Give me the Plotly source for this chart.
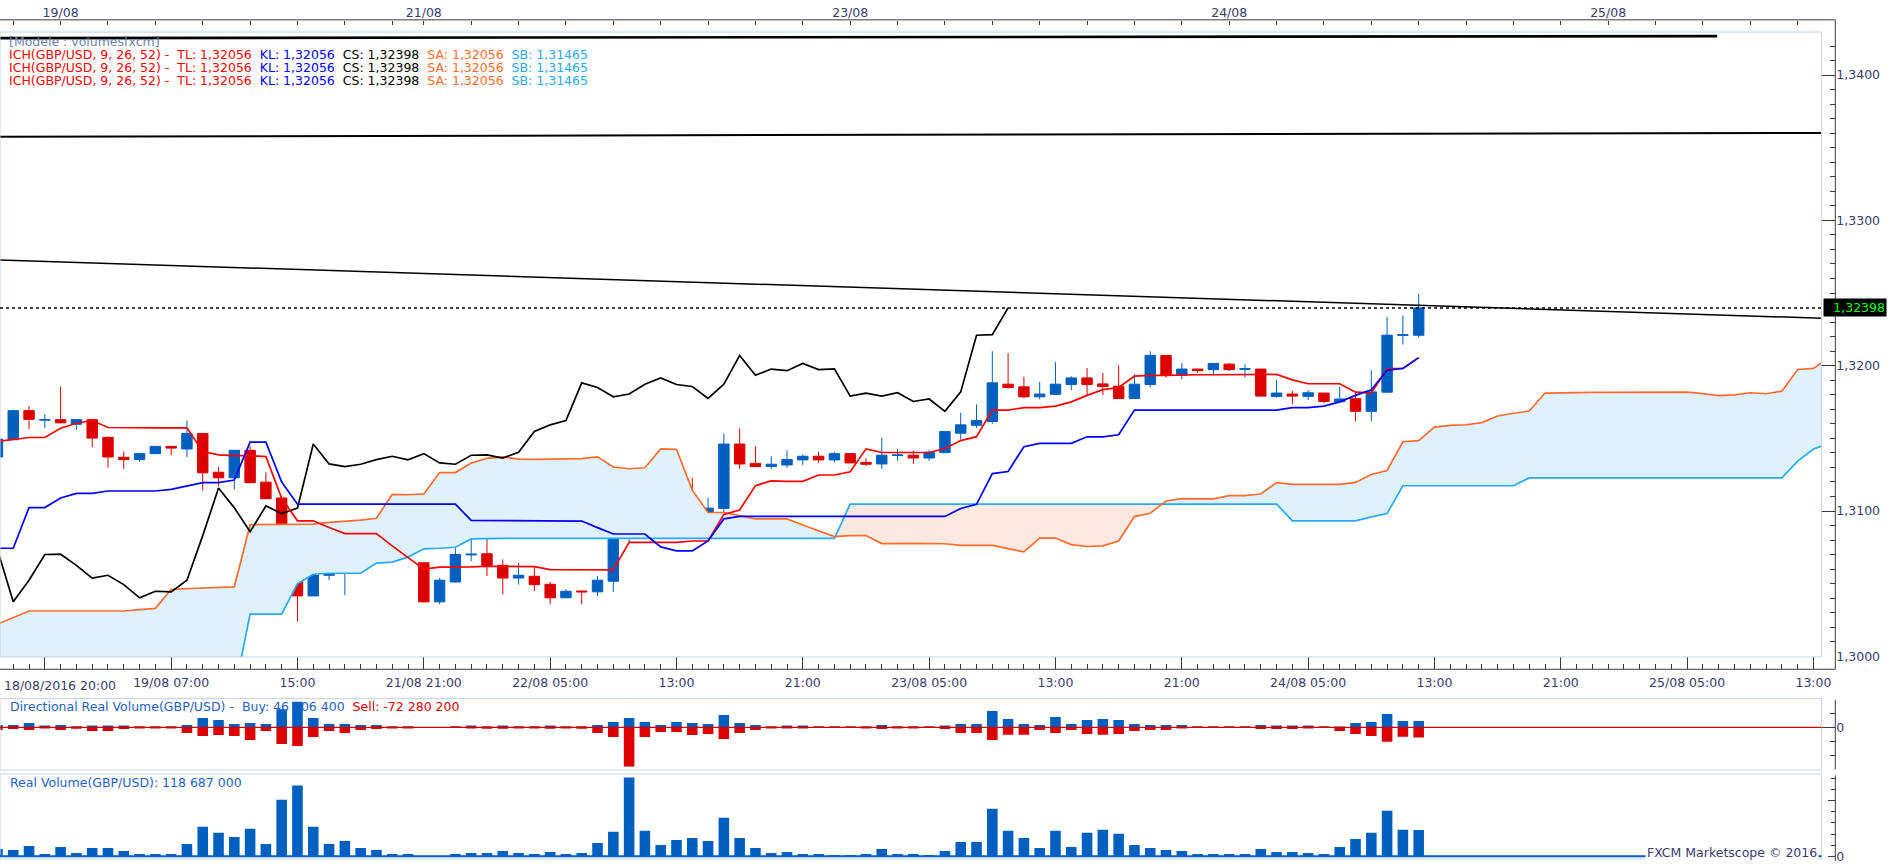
"""GBP/USD hourly candles with Ichimoku, directional volume and real volume (Marketscope look)."""

import numpy as np
import plotly.graph_objects as go

W, H = 1903, 868
FONT = "DejaVu Sans"

# ---- hourly bars, bar 0 = 18/08/2016 20:00 ----
OPEN = [1.31372, 1.31491, 1.31691, 1.31625, 1.31629, 1.31597, 1.31629, 1.31507, 1.31370, 1.31354,
        1.31395, 1.31445, 1.31427, 1.31534, 1.31267, 1.31229, 1.31418, 1.31199, 1.31090, 1.30844,
        1.30416, 1.30558, 1.30603, 1.30631, 1.30701, 1.30781, 1.30808, 1.30644, 1.30375, 1.30512,
        1.30698, 1.30706, 1.30626, 1.30539, 1.30551, 1.30496, 1.30403, 1.30450, 1.30444, 1.30517,
        1.30826, 1.31158, 1.31029, 1.30858, 1.31035, 1.30983, 1.31018, 1.31461, 1.31328, 1.31306,
        1.31317, 1.31352, 1.31377, 1.31352, 1.31395, 1.31335, 1.31324, 1.31382, 1.31384, 1.31365,
        1.31402, 1.31536, 1.31590, 1.31616, 1.31873, 1.31855, 1.31786, 1.31803, 1.31871, 1.31916,
        1.31875, 1.31859, 1.31775, 1.31871, 1.32071, 1.31934, 1.31977, 1.31973, 1.32011, 1.31975,
        1.31977, 1.31789, 1.31805, 1.31789, 1.31812, 1.31752, 1.31773, 1.31686, 1.31818, 1.32209,
        1.32210]
HIGH = [1.31500, 1.31698, 1.31725, 1.31668, 1.31855, 1.31629, 1.31632, 1.31514, 1.31411, 1.31395,
        1.31445, 1.31445, 1.31623, 1.31534, 1.31304, 1.31418, 1.31445, 1.31267, 1.31090, 1.30910,
        1.30740, 1.30728, 1.30631, 1.30735, 1.30815, 1.30849, 1.30870, 1.30644, 1.30539, 1.30744,
        1.30831, 1.30831, 1.30667, 1.30644, 1.30614, 1.30512, 1.30462, 1.30450, 1.30553, 1.30831,
        1.31213, 1.31213, 1.31029, 1.31126, 1.31229, 1.31092, 1.31534, 1.31568, 1.31445, 1.31377,
        1.31418, 1.31389, 1.31409, 1.31409, 1.31395, 1.31363, 1.31506, 1.31427, 1.31416, 1.31418,
        1.31547, 1.31677, 1.31734, 1.32100, 1.32087, 1.31923, 1.31889, 1.32025, 1.31927, 1.31984,
        1.31950, 1.32003, 1.31941, 1.32100, 1.32071, 1.32018, 1.31979, 1.32018, 1.32018, 1.32009,
        1.31977, 1.31902, 1.31827, 1.31832, 1.31812, 1.31855, 1.31823, 1.31969, 1.32337, 1.32346,
        1.32496]
LOW = [1.31365, 1.31491, 1.31563, 1.31570, 1.31605, 1.31559, 1.31440, 1.31297, 1.31290, 1.31338,
       1.31395, 1.31384, 1.31372, 1.31140, 1.31172, 1.31149, 1.31195, 1.31085, 1.30546, 1.30239,
       1.30416, 1.30524, 1.30421, 1.30580, 1.30701, 1.30781, 1.30717, 1.30372, 1.30358, 1.30507,
       1.30655, 1.30553, 1.30426, 1.30494, 1.30448, 1.30358, 1.30403, 1.30358, 1.30416, 1.30444,
       1.30785, 1.30990, 1.30858, 1.30831, 1.30983, 1.30922, 1.30990, 1.31290, 1.31304, 1.31290,
       1.31297, 1.31317, 1.31331, 1.31335, 1.31331, 1.31308, 1.31290, 1.31347, 1.31324, 1.31344,
       1.31402, 1.31491, 1.31570, 1.31600, 1.31843, 1.31775, 1.31768, 1.31803, 1.31831, 1.31798,
       1.31798, 1.31775, 1.31775, 1.31850, 1.31918, 1.31907, 1.31950, 1.31941, 1.31964, 1.31918,
       1.31791, 1.31780, 1.31734, 1.31763, 1.31741, 1.31750, 1.31618, 1.31618, 1.31813, 1.32146,
       1.32192]
CLOSE = [1.31495, 1.31691, 1.31631, 1.31630, 1.31607, 1.31629, 1.31502, 1.31372, 1.31354, 1.31395,
         1.31445, 1.31433, 1.31534, 1.31263, 1.31229, 1.31418, 1.31195, 1.31085, 1.30840, 1.30416,
         1.30558, 1.30603, 1.30631, 1.30701, 1.30781, 1.30808, 1.30735, 1.30375, 1.30524, 1.30701,
         1.30703, 1.30626, 1.30539, 1.30558, 1.30494, 1.30403, 1.30448, 1.30444, 1.30524, 1.30831,
         1.31158, 1.31022, 1.30858, 1.31035, 1.30983, 1.31020, 1.31461, 1.31324, 1.31306, 1.31322,
         1.31354, 1.31377, 1.31352, 1.31395, 1.31331, 1.31322, 1.31384, 1.31386, 1.31365, 1.31404,
         1.31547, 1.31593, 1.31623, 1.31882, 1.31850, 1.31786, 1.31805, 1.31873, 1.31916, 1.31871,
         1.31857, 1.31775, 1.31873, 1.32071, 1.31934, 1.31977, 1.31966, 1.32016, 1.31973, 1.31979,
         1.31791, 1.31812, 1.31791, 1.31814, 1.31754, 1.31771, 1.31686, 1.31820, 1.32210, 1.32214,
         1.32398]

# Ichimoku lines
TENKAN = [1.31479, 1.31491, 1.31506, 1.31506, 1.31570, 1.31604, 1.31623, 1.31575, 1.31573, 1.31573,
          1.31573, 1.31573, 1.31573, 1.31410, 1.31386, 1.31382, 1.31382, 1.31375, 1.31088, 1.30933,
          1.30933, 1.30887, 1.30845, 1.30845, 1.30845, 1.30760, 1.30680, 1.30600, 1.30614, 1.30614,
          1.30616, 1.30620, 1.30620, 1.30620, 1.30618, 1.30597, 1.30597, 1.30597, 1.30595, 1.30595,
          1.30785, 1.30785, 1.30785, 1.30785, 1.30794, 1.30794, 1.30977, 1.31007, 1.31175, 1.31208,
          1.31204, 1.31204, 1.31248, 1.31248, 1.31270, 1.31428, 1.31403, 1.31403, 1.31403, 1.31403,
          1.31430, 1.31485, 1.31512, 1.31695, 1.31695, 1.31712, 1.31712, 1.31722, 1.31751, 1.31796,
          1.31835, 1.31850, 1.31928, 1.31934, 1.31934, 1.31938, 1.31938, 1.31938, 1.31938, 1.31938,
          1.31938, 1.31940, 1.31903, 1.31876, 1.31876, 1.31876, 1.31818, 1.31814, 1.31978, 1.31982,
          1.32056]
KIJUN = [1.30744, 1.30744, 1.31024, 1.31024, 1.31090, 1.31122, 1.31122, 1.31138, 1.31138, 1.31138,
         1.31138, 1.31149, 1.31172, 1.31195, 1.31195, 1.31213, 1.31474, 1.31474, 1.31200, 1.31047,
         1.31047, 1.31047, 1.31047, 1.31047, 1.31047, 1.31047, 1.31047, 1.31047, 1.31047, 1.31047,
         1.30936, 1.30936, 1.30936, 1.30931, 1.30931, 1.30931, 1.30931, 1.30931, 1.30886, 1.30842,
         1.30842, 1.30842, 1.30753, 1.30726, 1.30726, 1.30794, 1.30946, 1.30963, 1.30963, 1.30963,
         1.30963, 1.30963, 1.30963, 1.30963, 1.30963, 1.30963, 1.30963, 1.30963, 1.30963, 1.30963,
         1.30963, 1.31018, 1.31046, 1.31258, 1.31272, 1.31443, 1.31466, 1.31466, 1.31466, 1.31511,
         1.31511, 1.31525, 1.31695, 1.31695, 1.31695, 1.31695, 1.31695, 1.31695, 1.31695, 1.31695,
         1.31695, 1.31695, 1.31712, 1.31712, 1.31722, 1.31751, 1.31796, 1.31835, 1.31969, 1.31982,
         1.32056]
# lagging span, bars 0..64
CHIKOU = [1.30735, 1.30375, 1.30524, 1.30701, 1.30703, 1.30626, 1.30539, 1.30558, 1.30494, 1.30403,
          1.30448, 1.30444, 1.30524, 1.30831, 1.31158, 1.31022, 1.30858, 1.31035, 1.30983, 1.31020,
          1.31461, 1.31324, 1.31306, 1.31322, 1.31354, 1.31377, 1.31352, 1.31395, 1.31331, 1.31322,
          1.31384, 1.31386, 1.31365, 1.31404, 1.31547, 1.31593, 1.31623, 1.31882, 1.31850, 1.31786,
          1.31805, 1.31873, 1.31916, 1.31871, 1.31857, 1.31775, 1.31873, 1.32071, 1.31934, 1.31977,
          1.31966, 1.32016, 1.31973, 1.31979, 1.31791, 1.31812, 1.31791, 1.31814, 1.31754, 1.31771,
          1.31686, 1.31820, 1.32210, 1.32214, 1.32398]
# leading spans, bars 0..116
SENKOU_A = [1.30221, 1.30266, 1.30312, 1.30312, 1.30312, 1.30312, 1.30312, 1.30312, 1.30312, 1.30321,
            1.30330, 1.30462, 1.30467, 1.30471, 1.30476, 1.30478, 1.30906, 1.30908, 1.30908, 1.30908,
            1.30910, 1.30922, 1.30929, 1.30938, 1.30950, 1.31115, 1.31112, 1.31118, 1.31265, 1.31265,
            1.31330, 1.31363, 1.31373, 1.31357, 1.31356, 1.31356, 1.31356, 1.31361, 1.31373, 1.31303,
            1.31291, 1.31298, 1.31428, 1.31425, 1.31144, 1.30990, 1.30990, 1.30967, 1.30946, 1.30946,
            1.30946, 1.30904, 1.30864, 1.30824, 1.30831, 1.30831, 1.30776, 1.30778, 1.30778, 1.30776,
            1.30775, 1.30764, 1.30764, 1.30764, 1.30741, 1.30719, 1.30814, 1.30814, 1.30769, 1.30756,
            1.30760, 1.30794, 1.30962, 1.30985, 1.31069, 1.31086, 1.31084, 1.31084, 1.31106, 1.31106,
            1.31117, 1.31196, 1.31183, 1.31183, 1.31183, 1.31183, 1.31197, 1.31252, 1.31279, 1.31477,
            1.31484, 1.31578, 1.31589, 1.31594, 1.31609, 1.31654, 1.31673, 1.31688, 1.31812, 1.31815,
            1.31815, 1.31817, 1.31817, 1.31817, 1.31817, 1.31817, 1.31817, 1.31818, 1.31808, 1.31794,
            1.31799, 1.31814, 1.31807, 1.31825, 1.31974, 1.31982, 1.32056]
SENKOU_B = ([1.29750] * 16 + [1.30291] * 3
            + [1.30500, 1.30565, 1.30572, 1.30572, 1.30572, 1.30642, 1.30649, 1.30683, 1.30740,
               1.30744, 1.30751, 1.30808]
            + [1.30812] * 23 + [1.31048] * 28 + [1.30933] * 5 + [1.30960, 1.30983]
            + [1.31174] * 8 + [1.31228] * 17 + [1.31344, 1.31427, 1.31465])

# drawn trend lines (bar index, price, width)
TREND_LINES = [
    ([-1, 108.9], [1.34254, 1.34268], 2.6),
    ([-1, 116.0], [1.33576, 1.33602], 2.0),
    ([-1, 116.0], [1.32732, 1.32325], 1.5),
]
LAST_PRICE = 1.32398

# volumes in millions
BUY_VOL = [16.6, 16.6, 30.9, 7.1, 16.6, 4.8, 9.5, 9.5, 9.5, 2.4,
           2.4, 2.4, 16.6, 66.5, 52.3, 23.8, 30.9, 23.8, 130.6, 182.9,
           66.5, 23.8, 23.8, 16.6, 16.6, 2.4, 2.4, 0.0, 0.0, 2.4,
           9.5, 2.4, 9.5, 2.4, 2.4, 7.1, 2.4, 1.2, 16.6, 38.0,
           66.5, 38.0, 16.6, 38.0, 30.9, 23.8, 87.9, 30.9, 16.6, 2.4,
           9.5, 9.5, 2.4, 2.4, 2.4, 2.4, 16.6, 2.4, 2.4, 2.4,
           9.5, 23.8, 23.8, 116.4, 59.4, 23.8, 16.6, 73.6, 23.8, 52.3,
           59.4, 52.3, 23.8, 16.6, 16.6, 16.6, 2.4, 2.4, 2.4, 2.4,
           16.6, 9.5, 9.5, 9.5, 2.4, 4.8, 30.9, 38.0, 95.0, 45.1,
           46.4]
SELL_VOL = [-19.0, -11.9, -19.0, -4.8, -19.0, -9.5, -26.1, -26.1, -11.9, -2.4,
            -2.4, -2.4, -40.4, -61.8, -54.6, -61.8, -90.3, -26.1, -118.8, -133.0,
            -69.0, -26.1, -40.4, -19.0, -11.9, -2.4, -2.4, 0.0, 0.0, -1.2,
            -2.4, -9.5, -9.5, -2.4, -2.4, -9.5, -2.4, -9.5, -40.4, -69.0,
            -280.3, -69.0, -33.3, -33.3, -54.6, -47.5, -83.1, -40.4, -19.0, -2.4,
            -2.4, -2.4, -1.2, -1.2, -1.2, -2.4, -11.9, -2.4, -2.4, -1.2,
            -11.9, -40.4, -40.4, -90.3, -52.3, -52.3, -19.0, -40.4, -19.0, -47.5,
            -52.3, -47.5, -26.1, -19.0, -19.0, -2.4, -1.2, -1.2, -1.2, -1.2,
            -11.9, -11.9, -11.9, -2.4, -1.2, -26.1, -47.5, -61.8, -102.1, -66.5,
            -72.3]
REAL_VOL = [33.0, 28.6, 46.7, 10.5, 42.1, 15.1, 37.6, 37.6, 24.1, 10.5,
            10.5, 10.5, 55.7, 132.4, 105.4, 87.3, 123.4, 55.7, 254.3, 317.6,
            132.4, 55.7, 69.2, 37.6, 28.6, 10.5, 10.5, 0.0, 0.0, 10.5,
            15.1, 15.1, 24.1, 15.1, 10.5, 19.6, 10.5, 15.1, 60.2, 109.9,
            353.7, 114.4, 51.2, 73.7, 82.8, 69.2, 173.1, 82.8, 37.6, 15.1,
            19.6, 10.5, 10.5, 6.0, 6.0, 10.5, 33.1, 10.5, 10.5, 6.0,
            24.1, 64.7, 64.7, 213.7, 114.4, 82.8, 37.6, 114.4, 42.1, 105.4,
            118.9, 100.8, 51.2, 37.6, 28.6, 24.1, 10.5, 10.5, 10.5, 10.5,
            33.1, 19.6, 19.6, 15.1, 10.5, 42.1, 78.3, 105.4, 204.7, 118.9,
            118.7]

# axis labels
BOTTOM_TICKS = [3, 11, 19, 27, 35, 43, 51, 59, 67, 75, 83, 91, 99, 107, 115]
BOTTOM_LABELS = ["", "19/08 07:00", "15:00", "21/08 21:00", "22/08 05:00", "13:00", "21:00",
                 "23/08 05:00", "13:00", "21:00", "24/08 05:00", "13:00", "21:00",
                 "25/08 05:00", "13:00"]
FIRST_LABEL = "18/08/2016 20:00"
DAY_TICKS = [4, 27, 54, 78, 102]
DAY_LABELS = ["19/08", "21/08", "23/08", "24/08", "25/08"]
DAY_MARKS = [4, 27, 30, 54, 78, 102]
HOUR3_TICKS = list(range(1, 26, 3)) + list(range(27, 116, 3))
PRICE_TICKS = [1.30, 1.31, 1.32, 1.33, 1.34]
PRICE_LABELS = ["1,3000", "1,3100", "1,3200", "1,3300", "1,3400"]

# ---- colours ----
BULL = "#0060c0"
BEAR = "#dc0000"
TL_C = "#ff0000"
KL_C = "#0000ff"
SA_C = "#ff6c2c"
SB_C = "#26aaf2"
CLOUD_UP = "#dff1fd"
CLOUD_DN = "#fde9df"
EDGE = "#c6d3e2"
AXIS_LINE = "#3a3a3a"
AXIS_TEXT = "#3b3b6d"
VOL_TEXT = "#1f62c4"

# ---- pixel layout of the Marketscope window ----
PLOT_R, AXIS_X = 1831, 1845
TOP_AXIS_Y, PLOT_T, PLOT_B, BOTTOM_AXIS_Y = 20, 32.3, 662.3, 674.7
DIR_T, DIR_ZERO, DIR_B = 704.3, 733.3, 776.3
VOL_T, VOL_ZERO, VOL_B = 780.3, 863.3, 866.0
BAR0_PX, BAR_PX = -2.57, 15.875          # x of bar 0, spacing of bars
PRICE_REF, PRICE_REF_PX, PX_PER_PRICE = 1.34, 75.7, 14650.0
DIR_PER_PX, VOL_PER_PX = 7.1, 4.45


def px_x(px):
    return px / W


def px_y(py):
    return 1 - py / H


def bar_at(px):
    return (px - BAR0_PX) / BAR_PX


def price_at(py):
    return PRICE_REF - (py - PRICE_REF_PX) / PX_PER_PRICE


def comma(v):
    return f"{v:.5f}".replace(".", ",")


def cloud_pieces(xs, upper, lower):
    """Split the area between two spans into runs where upper >= lower or not."""
    xs = np.asarray(xs, float)
    a = np.asarray(upper, float)
    b = np.asarray(lower, float)
    d = a - b
    pieces = []
    cx, ca, cb = [xs[0]], [a[0]], [b[0]]
    state = d[0] >= 0
    for i in range(1, len(xs)):
        now = d[i] >= 0
        if now != state:
            t = d[i - 1] / (d[i - 1] - d[i])
            xc = xs[i - 1] + t * (xs[i] - xs[i - 1])
            yc = a[i - 1] + t * (a[i] - a[i - 1])
            cx.append(xc); ca.append(yc); cb.append(yc)
            pieces.append((state, cx, ca, cb))
            cx, ca, cb = [xc], [yc], [yc]
            state = now
        cx.append(xs[i]); ca.append(a[i]); cb.append(b[i])
    pieces.append((state, cx, ca, cb))
    return pieces


bars = list(range(len(CLOSE)))
lead_x = list(range(len(SENKOU_A)))
x_range = [bar_at(0), bar_at(PLOT_R)]

fig = go.Figure()

# cloud
for bullish, cx, ca, cb in cloud_pieces(lead_x, SENKOU_A, SENKOU_B):
    fig.add_trace(go.Scatter(x=cx + cx[::-1], y=ca + cb[::-1], mode="lines", fill="toself",
                             fillcolor=CLOUD_UP if bullish else CLOUD_DN, line=dict(width=0),
                             hoverinfo="skip"))

fig.add_trace(go.Candlestick(
    x=bars, open=OPEN, high=HIGH, low=LOW, close=CLOSE, whiskerwidth=0,
    increasing=dict(line=dict(color=BULL, width=1), fillcolor=BULL),
    decreasing=dict(line=dict(color=BEAR, width=1), fillcolor=BEAR),
    hoverinfo="skip"))

for xs, ys, color in [(lead_x, SENKOU_B, SB_C), (lead_x, SENKOU_A, SA_C),
                      (bars[:len(CHIKOU)], CHIKOU, "#000000"),
                      (bars, TENKAN, TL_C), (bars, KIJUN, KL_C)]:
    fig.add_trace(go.Scatter(x=xs, y=ys, mode="lines", line=dict(color=color, width=1.7),
                             hoverinfo="skip"))

for xs, ys, width in TREND_LINES:
    fig.add_trace(go.Scatter(x=xs, y=ys, mode="lines", line=dict(color="#000000", width=width),
                             hoverinfo="skip"))

# day markers on the top time strip
fig.add_trace(go.Scatter(x=DAY_MARKS, y=[price_at(23.5)] * len(DAY_MARKS), xaxis="x2", yaxis="y",
                         mode="markers", cliponaxis=False, hoverinfo="skip",
                         marker=dict(symbol="triangle-down", size=9, color="#262626")))

# directional and real volume
fig.add_trace(go.Bar(x=bars, y=BUY_VOL, yaxis="y2", width=0.67, marker=dict(color=BULL, line_width=0),
                     hoverinfo="skip"))
fig.add_trace(go.Bar(x=bars, y=SELL_VOL, yaxis="y2", width=0.67, marker=dict(color=BEAR, line_width=0),
                     hoverinfo="skip"))
fig.add_trace(go.Bar(x=bars, y=REAL_VOL, yaxis="y3", width=0.67, marker=dict(color=BULL, line_width=0),
                     hoverinfo="skip"))

tick_font = dict(family=FONT, size=12.5, color=AXIS_TEXT)
y_common = dict(anchor="free", position=px_x(AXIS_X), side="right", ticks="inside",
                tickcolor=AXIS_LINE, showgrid=False, zeroline=False, showline=False,
                tickfont=tick_font, fixedrange=True)


def frame(x0, y0, x1, y1, color=AXIS_LINE):
    return dict(type="line", xref="paper", yref="paper", x0=px_x(x0), x1=px_x(x1),
                y0=px_y(y0), y1=px_y(y1), line=dict(color=color, width=1), layer="above")


def panel(top, bottom):
    return dict(type="rect", xref="paper", yref="paper", x0=0, x1=px_x(PLOT_R),
                y0=px_y(bottom), y1=px_y(top), line=dict(color=EDGE, width=1), layer="above")


shapes = [
    panel(PLOT_T, PLOT_B), panel(DIR_T, DIR_B), panel(VOL_T, VOL_B),
    frame(0, TOP_AXIS_Y, AXIS_X, TOP_AXIS_Y), frame(AXIS_X, TOP_AXIS_Y, AXIS_X, BOTTOM_AXIS_Y),
    frame(0, BOTTOM_AXIS_Y, AXIS_X, BOTTOM_AXIS_Y), frame(AXIS_X, 705.7, AXIS_X, 775.7),
    frame(AXIS_X, 781.7, AXIS_X, H),
    dict(type="line", xref="x domain", yref="y", x0=0, x1=1, y0=LAST_PRICE, y1=LAST_PRICE,
         line=dict(color="#000000", width=1.5, dash="dot"), layer="above"),
    dict(type="line", xref="x domain", yref="y2", x0=0, x1=1, y0=0, y1=0,
         line=dict(color="#d00000", width=1.2), layer="above"),
    dict(type="line", xref="x domain", yref="y3", x0=0, x1=1, y0=0, y1=0,
         line=dict(color=BULL, width=2), layer="above"),
]

NB = "\u00a0"
ich_line = (f"<span style='color:{TL_C}'>ICH(GBP/USD, 9, 26, 52) -{NB} TL: {comma(TENKAN[-1])}</span>{NB} "
            f"<span style='color:{KL_C}'>KL: {comma(KIJUN[-1])}</span>{NB} "
            f"<span style='color:#000000'>CS: {comma(CLOSE[-1])}</span>{NB} "
            f"<span style='color:{SA_C}'>SA: {comma(SENKOU_A[-1])}</span>{NB} "
            f"<span style='color:{SB_C}'>SB: {comma(SENKOU_B[-1])}</span>")


def note(text, x, y, color=AXIS_TEXT, anchor="left", **kw):
    return dict(text=text, xref="paper", yref="paper", x=px_x(x), y=px_y(y), xanchor=anchor,
                yanchor="middle", showarrow=False, font=dict(family=FONT, size=12.5, color=color), **kw)


annotations = [
    note("[Modele : volumesfxcm]", 7.5, 41.5, color="#6f7fa6"),
    note(ich_line, 7.5, 54.8), note(ich_line, 7.5, 68.1), note(ich_line, 7.5, 81.4),
    note(FIRST_LABEL, 1.7, 690.7),
    note(f"<span style='color:{VOL_TEXT}'>Directional Real Volume(GBP/USD) -{NB} Buy: 46 406 400</span>{NB} "
         f"<span style='color:{BEAR}'>Sell: -72 280 200</span>", 8.3, 712.3),
    note("Real Volume(GBP/USD): 118 687 000", 8.3, 788.7, color=VOL_TEXT),
    note("FXCM Marketscope © 2016", 1829, 859.3, anchor="right", bgcolor="white"),
    dict(text=comma(LAST_PRICE), xref="paper", yref="y", x=px_x(1833), y=LAST_PRICE, xanchor="left",
         yanchor="middle", showarrow=False, bgcolor="#000000", borderpad=1, width=60, align="right",
         font=dict(family=FONT, size=12.5, color="#00ff00")),
]

fig.update_layout(
    width=W, height=H, margin=dict(l=0, r=0, t=0, b=0),
    paper_bgcolor="white", plot_bgcolor="white",
    showlegend=False, hovermode=False, barmode="overlay",
    boxgap=0.34, boxgroupgap=0,
    font=dict(family=FONT, size=12.5, color=AXIS_TEXT),
    xaxis=dict(domain=[0, px_x(PLOT_R)], range=x_range, anchor="free", position=px_y(BOTTOM_AXIS_Y),
               tickmode="array", tickvals=BOTTOM_TICKS, ticktext=BOTTOM_LABELS,
               ticks="inside", ticklen=12, tickcolor=AXIS_LINE,
               minor=dict(tickmode="linear", tick0=0, dtick=1, ticks="inside", ticklen=5,
                          tickcolor=AXIS_LINE),
               showgrid=False, zeroline=False, showline=False, tickfont=tick_font,
               ticklabelstandoff=4, rangeslider=dict(visible=False), fixedrange=True),
    xaxis2=dict(overlaying="x", side="top", anchor="free", position=px_y(TOP_AXIS_Y), range=x_range,
                tickmode="array", tickvals=DAY_TICKS, ticktext=DAY_LABELS,
                ticks="inside", ticklen=4, tickcolor=AXIS_LINE,
                minor=dict(tickmode="array", tickvals=HOUR3_TICKS, ticks="inside", ticklen=4,
                           tickcolor=AXIS_LINE),
                showgrid=False, zeroline=False, showline=False, tickfont=tick_font, fixedrange=True),
    yaxis=dict(domain=[px_y(PLOT_B), px_y(PLOT_T)], range=[price_at(PLOT_B), price_at(PLOT_T)],
               tickmode="array", tickvals=PRICE_TICKS, ticktext=PRICE_LABELS, ticklen=14,
               minor=dict(tickmode="linear", tick0=1.3, dtick=0.001, ticks="inside", ticklen=5,
                          tickcolor=AXIS_LINE),
               **y_common),
    yaxis2=dict(domain=[px_y(DIR_B), px_y(DIR_T)],
                range=[-(DIR_B - DIR_ZERO) * DIR_PER_PX, (DIR_ZERO - DIR_T) * DIR_PER_PX],
                tickmode="array", tickvals=[0], ticktext=["0"], ticklen=15,
                minor=dict(tickmode="linear", tick0=0, dtick=100, ticks="inside", ticklen=5,
                           tickcolor=AXIS_LINE),
                **y_common),
    yaxis3=dict(domain=[px_y(VOL_B), px_y(VOL_T)],
                range=[-(VOL_B - VOL_ZERO) * VOL_PER_PX, (VOL_ZERO - VOL_T) * VOL_PER_PX],
                tickmode="array", tickvals=[0, 250], ticktext=["0", ""], ticklen=7,
                minor=dict(tickmode="linear", tick0=0, dtick=50, ticks="inside", ticklen=4,
                           tickcolor=AXIS_LINE),
                **y_common),
    shapes=shapes,
    annotations=annotations,
)

fig.write_html("out.html", config={"displayModeBar": False},
               post_script="document.body.style.margin='0px';document.body.style.overflow='hidden';")
